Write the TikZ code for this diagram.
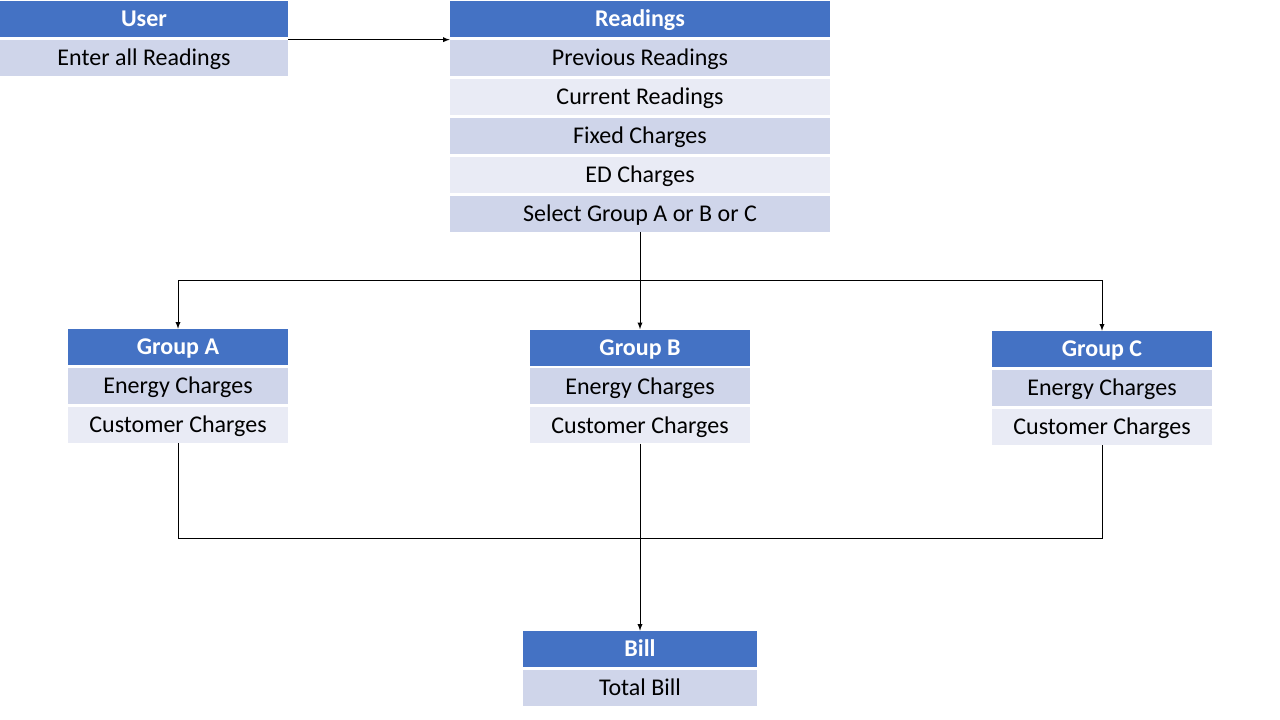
\documentclass[tikz,border=0pt]{standalone}
\usepackage{fontspec}
\setmainfont{Carlito}
\usetikzlibrary{positioning}
\definecolor{headblue}{HTML}{4472C4}
\definecolor{rowdark}{HTML}{CFD5EA}
\definecolor{rowlight}{HTML}{E9EBF5}
\begin{document}
\begin{tikzpicture}[x=0.75pt, y=-0.75pt, >=latex, node distance=1.8pt,
    headbox/.style={fill=headblue, text=white, font=\bfseries\fontsize{18}{20}\selectfont, minimum height=27pt, inner sep=0pt, text height=11.6pt, text depth=0pt},
    darkrow/.style={fill=rowdark, font=\fontsize{18}{20}\selectfont, minimum height=27pt, inner sep=0pt, text height=11.6pt, text depth=0pt},
    lightrow/.style={darkrow, fill=rowlight}]
    \useasboundingbox (0,0) rectangle (1280,720);
    % user
    \node[headbox, minimum width=216pt] (user) at (144,19) {User};
    \node[darkrow, minimum width=216pt, below=of user] (enter) {Enter all Readings};
    % readings
    \node[headbox, minimum width=285pt] (read) at (640,19) {Readings};
    \node[darkrow, minimum width=285pt, below=of read] (prev) {Previous Readings};
    \node[lightrow, minimum width=285pt, below=of prev] (curr) {Current Readings};
    \node[darkrow, minimum width=285pt, below=of curr] (fixed) {Fixed Charges};
    \node[lightrow, minimum width=285pt, below=of fixed] (ed) {ED Charges};
    \node[darkrow, minimum width=285pt, below=of ed] (sel) {Select Group A or B or C};
    % groups
    \node[headbox, minimum width=165pt] (ga) at (178,347) {Group A};
    \node[darkrow, minimum width=165pt, below=of ga] (ea) {Energy Charges};
    \node[lightrow, minimum width=165pt, below=of ea] (ca) {Customer Charges};
    \node[headbox, minimum width=165pt] (gb) at (640,347.5) {Group B};
    \node[darkrow, minimum width=165pt, below=of gb] (eb) {Energy Charges};
    \node[lightrow, minimum width=165pt, below=of eb] (cb) {Customer Charges};
    \node[headbox, minimum width=165pt] (gc) at (1102,349) {Group C};
    \node[darkrow, minimum width=165pt, below=of gc] (ec) {Energy Charges};
    \node[lightrow, minimum width=165pt, below=of ec] (cc) {Customer Charges};
    % bill
    \node[headbox, minimum width=175.5pt] (bill) at (640,649) {Bill};
    \node[darkrow, minimum width=175.5pt, below=of bill] (total) {Total Bill};
    % connectors
    \coordinate (split) at (640,280);
    \coordinate (merge) at (640,538);
    \draw[->, line width=0.75pt] (enter.north east) -- (prev.north west);
    \draw[line width=0.75pt] (sel.south) -- (split);
    \draw[->, line width=0.75pt] (split) -| (ga.north);
    \draw[->, line width=0.75pt] (split) -- (gb.north);
    \draw[->, line width=0.75pt] (split) -| (gc.north);
    \draw[line width=0.75pt] (ca.south) |- (merge);
    \draw[line width=0.75pt] (cc.south) |- (merge);
    \draw[->, line width=0.75pt] (cb.south) -- (bill.north);
\end{tikzpicture}
\end{document}
